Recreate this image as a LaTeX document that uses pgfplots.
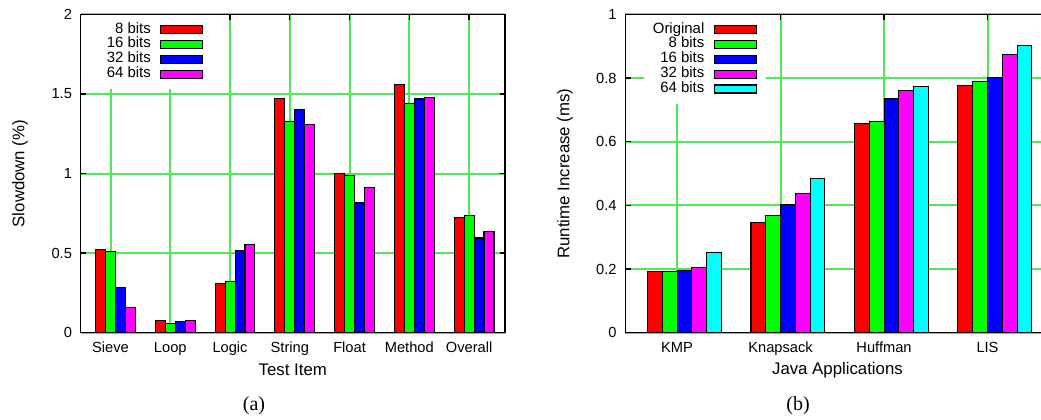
\documentclass[border=0pt]{standalone}
\usepackage{pgfplots}
\pgfplotsset{compat=1.18}
\usepackage{fontspec}
\setmainfont{Liberation Sans}
\newfontfamily\capfont{Liberation Serif}
\definecolor{gridgreen}{RGB}{80,232,80}
\definecolor{cRed}{RGB}{255,0,0}
\definecolor{cGreen}{RGB}{0,255,0}
\definecolor{cBlue}{RGB}{0,0,255}
\definecolor{cMag}{RGB}{255,0,255}
\definecolor{cCyan}{RGB}{0,255,255}
\pgfplotsset{
  gp/.style={
    scale only axis, width=318.2pt, height=238.8pt,
    ybar, ymin=0,
    axis line style={line width=1pt, draw=black},
    tick align=inside, xtick pos=both, ytick pos=both,
    major tick length=4pt,
    every tick/.style={draw=black, line width=1pt},
    xmajorgrids, ymajorgrids,
    every axis grid/.style={draw=gridgreen, line width=1.5pt},
    /pgf/number format/assume math mode=true,
    tick label style={font=\fontsize{11}{13}\selectfont},
    xticklabel style={yshift=-3.5pt},
    yticklabel style={xshift=-3pt},
    label style={font=\fontsize{12.6}{15}\selectfont},
    legend plot pos=right,
    legend cell align=right,
    legend style={draw=none, fill=white, anchor=north east,
      font=\fontsize{11.2}{13}\selectfont,
      nodes={inner sep=0pt, text height=7.8pt, text depth=2.2pt},
      row sep=1.2pt, column sep=7.2pt, inner xsep=7pt, inner ysep=6pt},
  },
  bx/.style={draw=black, line width=0.8pt, fill=#1,
    legend image code/.code={\draw[##1,/tikz/.cd,line width=0.8pt] (0pt,-3pt) rectangle (31.5pt,3pt);}},
}
\begin{document}
\begin{tikzpicture}
\path[use as bounding box] (0,0) rectangle (780.75pt,314.25pt);
\begin{axis}[gp,
  at={(60.5pt,64.7pt)}, anchor=south west,
  xmin=-0.5, xmax=6.6, ymax=2,
  bar width=0.1667,
  xtick={0,1,2,3,4,5,6},
  xticklabels={Sieve,Loop,Logic,String,Float,Method,Overall},
  ytick={0,0.5,1,1.5,2},
  xlabel={Test Item}, ylabel={Slowdown (\%)},
  xlabel style={at={(axis description cs:0.5,-0.117)}, anchor=center},
  ylabel style={at={(axis description cs:-0.143,0.5)}, anchor=center},
  legend style={at={(axis description cs:0.312,1)}},
]
\addplot[bx=cRed, bar shift=-0.1667] coordinates {(0,0.524) (1,0.075) (2,0.310) (3,1.474) (4,1.001) (5,1.562) (6,0.725)};
\addplot[bx=cGreen, bar shift=0] coordinates {(0,0.513) (1,0.059) (2,0.320) (3,1.328) (4,0.986) (5,1.439) (6,0.735)};
\addplot[bx=cBlue, bar shift=0.1667] coordinates {(0,0.285) (1,0.071) (2,0.517) (3,1.403) (4,0.815) (5,1.468) (6,0.595)};
\addplot[bx=cMag, bar shift=0.3333] coordinates {(0,0.159) (1,0.075) (2,0.553) (3,1.307) (4,0.915) (5,1.479) (6,0.637)};
\legend{8 bits,16 bits,32 bits,64 bits}
\end{axis}
\begin{axis}[gp,
  at={(469pt,64.7pt)}, anchor=south west,
  xmin=-0.5, xmax=3.6, ymax=1,
  bar width=0.142857,
  xtick={0,1,2,3},
  xticklabels={KMP,Knapsack,Huffman,LIS},
  ytick={0,0.2,0.4,0.6,0.8,1},
  xlabel={Java Applications}, ylabel={Runtime Increase (ms)},
  xlabel style={at={(axis description cs:0.5,-0.117)}, anchor=center},
  ylabel style={at={(axis description cs:-0.142,0.5)}, anchor=center},
  legend style={at={(axis description cs:0.333,1)}},
]
\addplot[bx=cRed, bar shift=-0.214286] coordinates {(0,0.193) (1,0.347) (2,0.658) (3,0.777)};
\addplot[bx=cGreen, bar shift=-0.071429] coordinates {(0,0.193) (1,0.368) (2,0.663) (3,0.790)};
\addplot[bx=cBlue, bar shift=0.071429] coordinates {(0,0.196) (1,0.403) (2,0.734) (3,0.803)};
\addplot[bx=cMag, bar shift=0.214286] coordinates {(0,0.204) (1,0.436) (2,0.760) (3,0.874)};
\addplot[bx=cCyan, bar shift=0.357143] coordinates {(0,0.251) (1,0.483) (2,0.772) (3,0.903)};
\legend{Original,8 bits,16 bits,32 bits,64 bits}
\end{axis}
\node[font=\capfont\fontsize{15}{17}\selectfont] at (190.5pt,9.75pt) {(a)};
\node[font=\capfont\fontsize{15}{17}\selectfont] at (598.5pt,9.75pt) {(b)};
\end{tikzpicture}
\end{document}
